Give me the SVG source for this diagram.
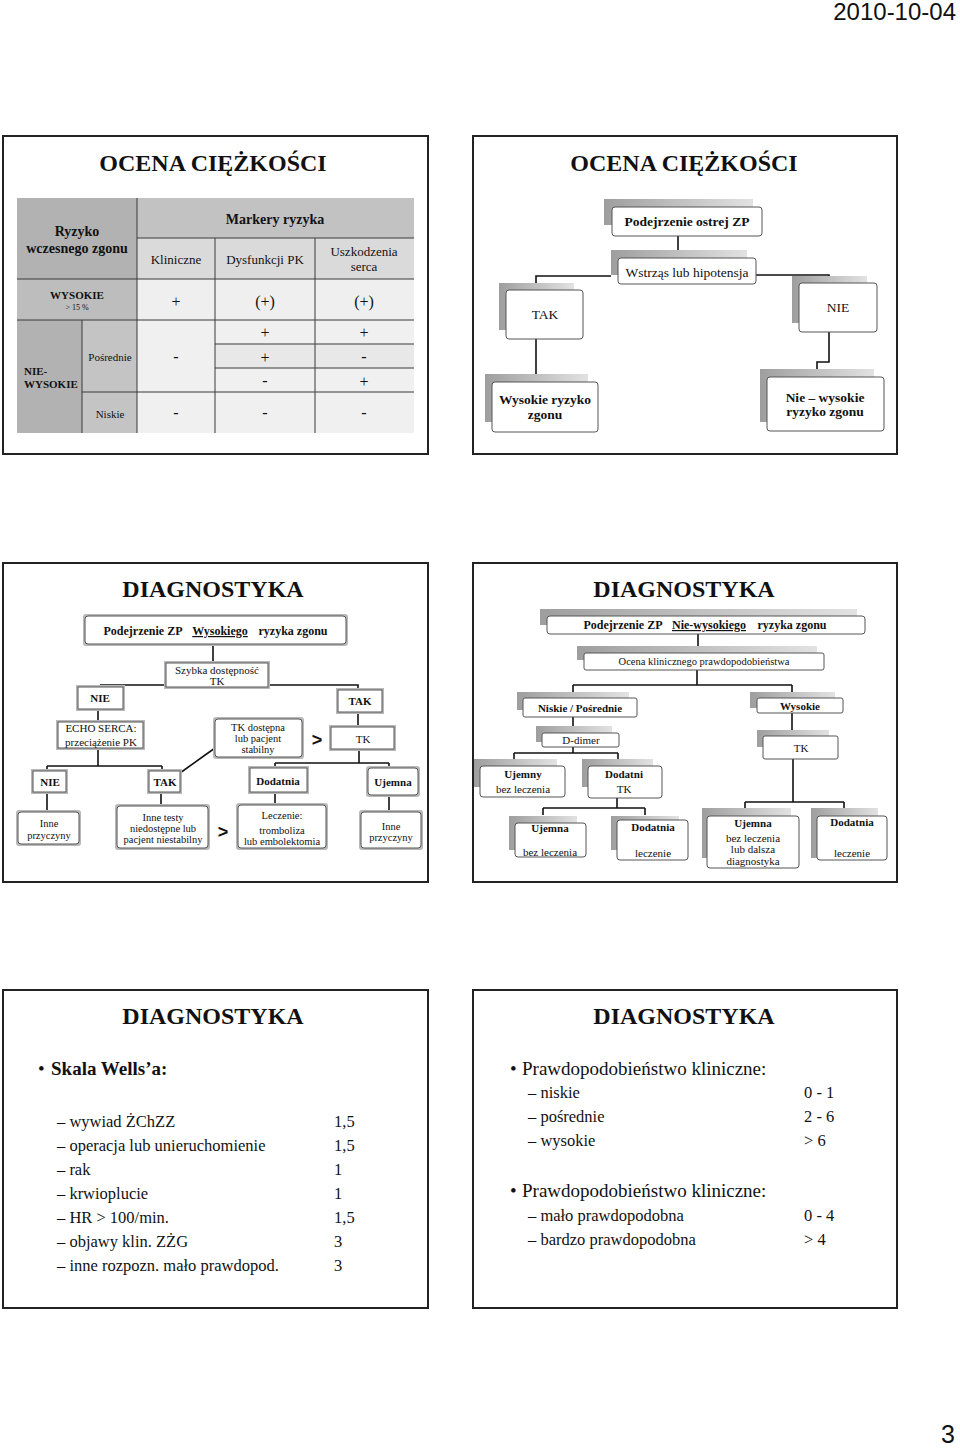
<svg xmlns="http://www.w3.org/2000/svg" width="960" height="1450" viewBox="0 0 960 1450">
<defs>
<linearGradient id="g" x1="0" y1="0" x2="1" y2="0"><stop offset="0" stop-color="#9e9e9e"/><stop offset="1" stop-color="#e2e2e2"/></linearGradient>
<style>
text{font-family:"Liberation Serif","Times New Roman",serif;fill:#111}
.frame{fill:#fff;stroke:#222;stroke-width:2}
.title{font-size:24px;font-weight:bold;text-anchor:middle}
.c{text-anchor:middle}
.b{font-weight:bold}
.back{fill:url(#g)}
.box{fill:#fff;stroke:#555;stroke-width:1}
.sh{fill:#b8b8b8}
.ln{stroke:#111;stroke-width:1.6;fill:none}
.tl{stroke:#3a3a3a;stroke-width:1;fill:none}
.gt{font-family:"Liberation Sans",Arial,sans-serif;font-weight:bold;font-size:18px;text-anchor:middle}
</style>
</defs>
<rect width="960" height="1450" fill="#fff"/>
<text x="956" y="20" style="font-family:'Liberation Sans',Arial,sans-serif;font-size:24px;text-anchor:end">2010-10-04</text>
<text x="955" y="1443" style="font-family:'Liberation Sans',Arial,sans-serif;font-size:25px;text-anchor:end">3</text>

<!-- Slide 1: table -->
<g id="slide1">
<rect class="frame" x="3" y="136" width="425" height="318"/>
<text class="title" x="213" y="171">OCENA CIĘŻKOŚCI</text>
<g id="table1">
<rect x="17" y="198" width="120" height="81" fill="#b2b2b2"/>
<rect x="137" y="198" width="277" height="40" fill="#c2c2c2"/>
<rect x="137" y="238" width="277" height="41" fill="#dadada"/>
<rect x="17" y="279" width="120" height="41" fill="#bdbdbd"/>
<rect x="137" y="279" width="277" height="41" fill="#efefef"/>
<rect x="17" y="320" width="65" height="113" fill="#b2b2b2"/>
<rect x="82" y="320" width="55" height="113" fill="#c4c4c4"/>
<rect x="137" y="320" width="277" height="113" fill="#f0f0f0"/>
<rect x="215" y="344" width="199" height="24" fill="#e8e8e8"/>
<path class="tl" d="M137 198V433M137 238H414M17 279H414M17 320H414M215 238V433M315 238V433M82 320V433M215 344H414M215 368H414M82 392H414"/>
<text class="c b" x="77" y="236" font-size="14">Ryzyko</text>
<text class="c b" x="77" y="253" font-size="14">wczesnego zgonu</text>
<text class="c b" x="275" y="224" font-size="14">Markery ryzyka</text>
<text class="c" x="176" y="264" font-size="13">Kliniczne</text>
<text class="c" x="265" y="264" font-size="13">Dysfunkcji PK</text>
<text class="c" x="364" y="256" font-size="13">Uszkodzenia</text>
<text class="c" x="364" y="271" font-size="13">serca</text>
<text class="c b" x="77" y="299" font-size="11">WYSOKIE</text>
<text class="c" x="77" y="310" font-size="8">&gt; 15 %</text>
<text class="c" x="176" y="307" font-size="16">+</text>
<text class="c" x="265" y="307" font-size="16">(+)</text>
<text class="c" x="364" y="307" font-size="16">(+)</text>
<text class="c" x="265" y="338" font-size="16">+</text>
<text class="c" x="364" y="338" font-size="16">+</text>
<text class="c" x="176" y="362" font-size="16">-</text>
<text class="c" x="265" y="363" font-size="16">+</text>
<text class="c" x="364" y="362" font-size="16">-</text>
<text class="c" x="265" y="386" font-size="16">-</text>
<text class="c" x="364" y="387" font-size="16">+</text>
<text class="c" x="110" y="361" font-size="11">Pośrednie</text>
<text class="b" x="24" y="375" font-size="11">NIE-</text>
<text class="b" x="24" y="388" font-size="11">WYSOKIE</text>
<text class="c" x="110" y="418" font-size="11">Niskie</text>
<text class="c" x="176" y="418" font-size="16">-</text>
<text class="c" x="265" y="418" font-size="16">-</text>
<text class="c" x="364" y="418" font-size="16">-</text>
</g>
</g>

<!-- Slide 2 -->
<g id="slide2">
<rect class="frame" x="473" y="136" width="424" height="318"/>
<text class="title" x="684" y="171">OCENA CIĘŻKOŚCI</text>
<g id="s2-connectors">
<path class="ln" d="M678 236V250M611 276H536V283M756 275H829V277M536 339V374M829 332V362H817V369"/>
</g>
<g id="s2-podejrzenie"><rect class="back" x="604" y="199" width="149" height="26"/><rect class="box" x="612" y="207" width="150" height="29" rx="3"/><text class="c b" x="687" y="226" font-size="13.5">Podejrzenie ostrej ZP</text></g>
<g id="s2-wstrzas"><rect class="back" x="611" y="250" width="136" height="25"/><rect class="box" x="618" y="258" width="138" height="26" rx="3"/><text class="c" x="687" y="277" font-size="13.5">Wstrząs lub hipotensja</text></g>
<g id="s2-tak"><rect class="back" x="499" y="283" width="75" height="47"/><rect class="box" x="506" y="290" width="77" height="49" rx="3"/><text class="c" x="545" y="319" font-size="13.5">TAK</text></g>
<g id="s2-nie"><rect class="back" x="792" y="276" width="75" height="47"/><rect class="box" x="799" y="283" width="78" height="49" rx="3"/><text class="c" x="838" y="312" font-size="13.5">NIE</text></g>
<g id="s2-wysokie"><rect class="back" x="485" y="374" width="103" height="48"/><rect class="box" x="492" y="382" width="106" height="50" rx="3"/><text class="c b" x="545" y="404" font-size="13.5">Wysokie ryzyko</text><text class="c b" x="545" y="419" font-size="13.5">zgonu</text></g>
<g id="s2-niewysokie"><rect class="back" x="760" y="369" width="114" height="53"/><rect class="box" x="767" y="377" width="117" height="54" rx="3"/><text class="c b" x="825" y="402" font-size="13.5">Nie – wysokie</text><text class="c b" x="825" y="416" font-size="13.5">ryzyko zgonu</text></g>
</g>

<!-- Slide 3 -->
<g id="slide3">
<rect class="frame" x="3" y="563" width="425" height="319"/>
<text class="title" x="213" y="597">DIAGNOSTYKA</text>
<g id="s3-connectors">
<path class="ln" d="M213 644V663M100 685H166M100 685V687M268 685H358V690M98 709V722M98 748V766M47 766H162M47 766V771M162 766V771M180 773L215 748M358 712V727M359 749V763M275 763H389M275 763V768M389 763V768M47 792V812M161 792V806M275 792V805M389 795V812"/>
</g>
<g id="s3-top"><rect class="sh" x="83" y="614" width="265" height="32" rx="3"/><rect class="box" x="85" y="616" width="261" height="28" rx="3"/>
<text class="c b" x="143" y="635" font-size="12">Podejrzenie ZP</text><text class="c b" x="220" y="635" font-size="12" text-decoration="underline">Wysokiego</text><text class="c b" x="293" y="635" font-size="12">ryzyka zgonu</text></g>
<g id="s3-szybka"><rect class="sh" x="164" y="661" width="106" height="28"/><rect class="box" x="166" y="663" width="102" height="24"/><text class="c" x="217" y="674" font-size="11">Szybka dostępność</text><text class="c" x="217" y="685" font-size="11">TK</text></g>
<g id="s3-nie1"><rect class="sh" x="76" y="685" width="49" height="26"/><rect class="box" x="78" y="687" width="45" height="22"/><text class="c b" x="100" y="702" font-size="11">NIE</text></g>
<g id="s3-tak1"><rect class="sh" x="336" y="688" width="48" height="26"/><rect class="box" x="338" y="690" width="44" height="22"/><text class="c b" x="360" y="705" font-size="11">TAK</text></g>
<g id="s3-echo"><rect class="sh" x="56" y="720" width="89" height="30"/><rect class="box" x="58" y="722" width="85" height="26"/><text class="c" x="101" y="732" font-size="11">ECHO SERCA:</text><text class="c" x="101" y="746" font-size="11">przeciążenie PK</text></g>
<g id="s3-tkdost"><rect class="sh" x="213" y="717" width="91" height="42" rx="3"/><rect class="box" x="215" y="719" width="87" height="38" rx="3"/><text class="c" x="258" y="731" font-size="10.5">TK dostępna</text><text class="c" x="258" y="742" font-size="10.5">lub pacjent</text><text class="c" x="258" y="753" font-size="10.5">stabilny</text></g>
<text class="gt" x="317" y="746">&gt;</text>
<g id="s3-tk"><rect class="sh" x="329" y="725" width="67" height="26"/><rect class="box" x="331" y="727" width="63" height="22"/><text class="c" x="363" y="743" font-size="11">TK</text></g>
<g id="s3-nie2"><rect class="sh" x="31" y="769" width="37" height="25"/><rect class="box" x="33" y="771" width="33" height="21"/><text class="c b" x="50" y="786" font-size="11">NIE</text></g>
<g id="s3-tak2"><rect class="sh" x="147" y="769" width="35" height="25"/><rect class="box" x="149" y="771" width="31" height="21"/><text class="c b" x="165" y="786" font-size="11">TAK</text></g>
<g id="s3-dodatnia"><rect class="sh" x="248" y="766" width="61" height="28"/><rect class="box" x="250" y="768" width="57" height="24"/><text class="c b" x="278" y="785" font-size="11">Dodatnia</text></g>
<g id="s3-ujemna"><rect class="sh" x="366" y="766" width="54" height="31" rx="3"/><rect class="box" x="368" y="768" width="50" height="27" rx="3"/><text class="c b" x="393" y="786" font-size="11">Ujemna</text></g>
<g id="s3-inne1"><rect class="sh" x="16" y="810" width="65" height="36" rx="3"/><rect class="box" x="18" y="812" width="61" height="32" rx="3"/><text class="c" x="49" y="827" font-size="10.5">Inne</text><text class="c" x="49" y="839" font-size="10.5">przyczyny</text></g>
<g id="s3-testy"><rect class="sh" x="115" y="804" width="95" height="46" rx="3"/><rect class="box" x="117" y="806" width="91" height="42" rx="3"/><text class="c" x="163" y="821" font-size="10.5">Inne testy</text><text class="c" x="163" y="832" font-size="10.5">niedostępne lub</text><text class="c" x="163" y="843" font-size="10.5">pacjent niestabilny</text></g>
<text class="gt" x="223" y="838">&gt;</text>
<g id="s3-leczenie"><rect class="sh" x="236" y="803" width="92" height="47" rx="3"/><rect class="box" x="238" y="805" width="88" height="43" rx="3"/><text class="c" x="282" y="819" font-size="10.5">Leczenie:</text><text class="c" x="282" y="834" font-size="10.5">tromboliza</text><text class="c" x="282" y="845" font-size="10.5">lub embolektomia</text></g>
<g id="s3-inne2"><rect class="sh" x="359" y="810" width="64" height="40" rx="3"/><rect class="box" x="361" y="812" width="60" height="36" rx="3"/><text class="c" x="391" y="830" font-size="10.5">Inne</text><text class="c" x="391" y="841" font-size="10.5">przyczyny</text></g>
</g>

<!-- Slide 4 -->
<g id="slide4">
<rect class="frame" x="473" y="563" width="424" height="319"/>
<text class="title" x="684" y="597">DIAGNOSTYKA</text>
<g id="s4-connectors">
<path class="ln" d="M698 634V647M697 670V685M573 685H792M573 685V692M792 685V692M573 717V733M573 747V753M514 753H618M514 753V759M618 753V759M617 798V808M543 808H645M543 808V815M645 808V815M792 713V730M793 759V802M745 802H844M745 802V808M844 802V808"/>
</g>
<g id="s4-top"><rect class="back" x="540" y="609" width="317" height="16"/><rect class="box" x="547" y="616" width="318" height="18" rx="3"/>
<text class="c b" x="623" y="629" font-size="12">Podejrzenie ZP</text><text class="c b" x="709" y="629" font-size="12" text-decoration="underline">Nie-wysokiego</text><text class="c b" x="792" y="629" font-size="12">ryzyka zgonu</text></g>
<g id="s4-ocena"><rect class="back" x="577" y="646" width="240" height="14"/><rect class="box" x="584" y="653" width="240" height="17" rx="2"/><text class="c" x="704" y="665" font-size="10.5">Ocena klinicznego prawdopodobieństwa</text></g>
<g id="s4-niskie"><rect class="back" x="517" y="692" width="112" height="18"/><rect class="box" x="523" y="698" width="114" height="19" rx="2"/><text class="c b" x="580" y="712" font-size="11">Niskie / Pośrednie</text></g>
<g id="s4-wysokie"><rect class="back" x="750" y="692" width="85" height="16"/><rect class="box" x="757" y="698" width="86" height="15" rx="2"/><text class="c b" x="800" y="710" font-size="11">Wysokie</text></g>
<g id="s4-ddimer"><rect class="back" x="536" y="726" width="76" height="16"/><rect class="box" x="542" y="733" width="77" height="14" rx="2"/><text class="c" x="581" y="744" font-size="11">D-dimer</text></g>
<g id="s4-ujemny"><rect class="back" x="474" y="759" width="83" height="28"/><rect class="box" x="480" y="766" width="85" height="31" rx="3"/><text class="c b" x="523" y="778" font-size="11">Ujemny</text><text class="c" x="523" y="793" font-size="11">bez leczenia</text></g>
<g id="s4-dodatni"><rect class="back" x="582" y="759" width="71" height="28"/><rect class="box" x="588" y="766" width="74" height="32" rx="3"/><text class="c b" x="624" y="778" font-size="11">Dodatni</text><text class="c" x="624" y="793" font-size="11">TK</text></g>
<g id="s4-ujemna1"><rect class="back" x="509" y="816" width="68" height="34"/><rect class="box" x="515" y="823" width="71" height="34" rx="3"/><text class="c b" x="550" y="832" font-size="11">Ujemna</text><text class="c" x="550" y="856" font-size="11">bez leczenia</text></g>
<g id="s4-dodatnia1"><rect class="back" x="611" y="816" width="68" height="34"/><rect class="box" x="617" y="820" width="71" height="40" rx="3"/><text class="c b" x="653" y="831" font-size="11">Dodatnia</text><text class="c" x="653" y="857" font-size="11">leczenie</text></g>
<g id="s4-tk"><rect class="back" x="757" y="730" width="72" height="17"/><rect class="box" x="763" y="736" width="75" height="23" rx="2"/><text class="c" x="801" y="752" font-size="11">TK</text></g>
<g id="s4-ujemna2"><rect class="back" x="702" y="808" width="89" height="50"/><rect class="box" x="707" y="816" width="92" height="52" rx="3"/><text class="c b" x="753" y="827" font-size="11">Ujemna</text><text class="c" x="753" y="842" font-size="11">bez leczenia</text><text class="c" x="753" y="853" font-size="11">lub dalsza</text><text class="c" x="753" y="865" font-size="11">diagnostyka</text></g>
<g id="s4-dodatnia2"><rect class="back" x="811" y="808" width="67" height="50"/><rect class="box" x="817" y="816" width="70" height="44" rx="3"/><text class="c b" x="852" y="826" font-size="11">Dodatnia</text><text class="c" x="852" y="857" font-size="11">leczenie</text></g>
</g>

<!-- Slide 5 -->
<g id="slide5">
<rect class="frame" x="3" y="990" width="425" height="318"/>
<text class="title" x="213" y="1024">DIAGNOSTYKA</text>
<text x="38" y="1075" font-size="19">•</text>
<text class="b" x="51" y="1075" font-size="19">Skala Wells’a:</text>
<g font-size="16.5">
<text x="57" y="1127">– wywiad ŻChZZ</text><text x="334" y="1127">1,5</text>
<text x="57" y="1151">– operacja lub unieruchomienie</text><text x="334" y="1151">1,5</text>
<text x="57" y="1175">– rak</text><text x="334" y="1175">1</text>
<text x="57" y="1199">– krwioplucie</text><text x="334" y="1199">1</text>
<text x="57" y="1223">– HR &gt; 100/min.</text><text x="334" y="1223">1,5</text>
<text x="57" y="1247">– objawy klin. ZŻG</text><text x="334" y="1247">3</text>
<text x="57" y="1271">– inne rozpozn. mało prawdopod.</text><text x="334" y="1271">3</text>
</g>
</g>

<!-- Slide 6 -->
<g id="slide6">
<rect class="frame" x="473" y="990" width="424" height="318"/>
<text class="title" x="684" y="1024">DIAGNOSTYKA</text>
<text x="510" y="1075" font-size="19">•</text>
<text x="522" y="1075" font-size="19">Prawdopodobieństwo kliniczne:</text>
<g font-size="16.5">
<text x="528" y="1098">– niskie</text><text x="804" y="1098">0 - 1</text>
<text x="528" y="1122">– pośrednie</text><text x="804" y="1122">2 - 6</text>
<text x="528" y="1146">– wysokie</text><text x="804" y="1146">&gt; 6</text>
</g>
<text x="510" y="1197" font-size="19">•</text>
<text x="522" y="1197" font-size="19">Prawdopodobieństwo kliniczne:</text>
<g font-size="16.5">
<text x="528" y="1221">– mało prawdopodobna</text><text x="804" y="1221">0 - 4</text>
<text x="528" y="1245">– bardzo prawdopodobna</text><text x="804" y="1245">&gt; 4</text>
</g>
</g>
</svg>
